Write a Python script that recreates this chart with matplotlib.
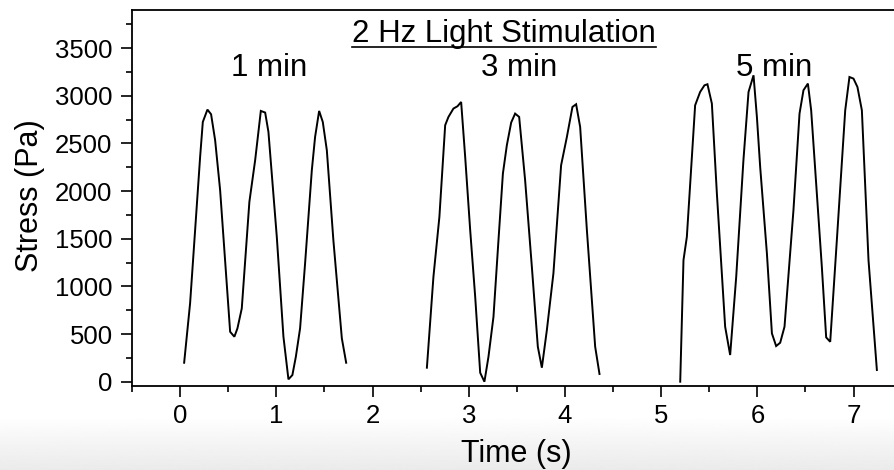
import numpy as np
import matplotlib
matplotlib.use("Agg")
import matplotlib.pyplot as plt
from matplotlib.lines import Line2D
from matplotlib.ticker import MultipleLocator

plt.rcParams['font.family'] = ['Liberation Sans', 'DejaVu Sans']

# ---- data ----
t_1min = [0.042, 0.104, 0.156, 0.208, 0.236, 0.284, 0.322, 0.364, 0.416, 0.520, 0.564,
          0.596, 0.641, 0.720, 0.780, 0.839, 0.884, 0.918, 1.005, 1.074, 1.126, 1.167,
          1.203, 1.247, 1.299, 1.369, 1.403, 1.445, 1.483, 1.525, 1.593, 1.681, 1.726]
s_1min = [199, 825, 1590, 2358, 2725, 2855, 2806, 2534, 2009, 524, 472,
          560, 769, 1887, 2324, 2841, 2824, 2621, 1520, 472, 25, 70,
          262, 560, 1241, 2219, 2568, 2841, 2725, 2429, 1485, 455, 199]

t_3min = [2.565, 2.633, 2.695, 2.755, 2.789, 2.841, 2.883, 2.921, 2.963, 3.015, 3.067,
          3.119, 3.163, 3.205, 3.257, 3.309, 3.355, 3.396, 3.441, 3.482, 3.524, 3.586,
          3.656, 3.718, 3.760, 3.812, 3.880, 3.960, 4.020, 4.078, 4.116, 4.158, 4.228,
          4.314, 4.359]
s_3min = [147, 1101, 1730, 2691, 2778, 2866, 2890, 2935, 2358, 1590, 891,
          94, 0, 262, 681, 1485, 2184, 2481, 2719, 2813, 2778, 2114,
          1205, 367, 147, 542, 1136, 2271, 2568, 2883, 2911, 2673, 1590,
          367, 81]

t_5min = [5.198, 5.232, 5.267, 5.353, 5.405, 5.450, 5.481, 5.527, 5.579, 5.665, 5.717,
          5.780, 5.855, 5.908, 5.960, 5.995, 6.029, 6.099, 6.151, 6.195, 6.237, 6.282,
          6.375, 6.438, 6.479, 6.525, 6.559, 6.618, 6.670, 6.715, 6.757, 6.826, 6.913,
          6.957, 6.999, 7.040, 7.086, 7.155, 7.242]
s_5min = [0, 1276, 1520, 2900, 3040, 3110, 3121, 2918, 1975, 577, 280,
          1101, 2324, 3040, 3215, 2778, 2254, 1346, 507, 374, 409, 577,
          1800, 2813, 3058, 3128, 2848, 1975, 1205, 465, 419, 1485, 2848,
          3197, 3180, 3092, 2848, 1276, 123]

segment_labels = ["1 min", "3 min", "5 min"]
segment_label_x = [0.93, 3.52, 6.17]
title_text = "2 Hz Light Stimulation"

W, H = 894, 470
fig = plt.figure(figsize=(W / 100, H / 100), dpi=100)

# subtle grey gradient at the bottom of the image
gax = fig.add_axes([0, 0, 1, 55 / H], zorder=-10)
grad = np.linspace(0.92, 1.0, 64).reshape(-1, 1)
gax.imshow(grad, cmap='gray', vmin=0, vmax=1, aspect='auto', origin='lower',
           extent=[0, 1, 0, 1])
gax.axis('off')

left = 132 / W
bottom = (H - 386) / H
top = (H - 10) / H
ax = fig.add_axes([left, bottom, 1.0 - left, top - bottom])
ax.set_facecolor('none')

for t, s in [(t_1min, s_1min), (t_3min, s_3min), (t_5min, s_5min)]:
    ax.plot(t, s, color='black', lw=1.4, solid_joinstyle='miter')

ax.set_xlim(-0.5, 7.42)
ax.set_ylim(-45, 3900)
ax.xaxis.set_major_locator(MultipleLocator(1))
ax.xaxis.set_minor_locator(MultipleLocator(0.5))
ax.yaxis.set_major_locator(MultipleLocator(500))
ax.yaxis.set_minor_locator(MultipleLocator(250))
ax.tick_params(which='both', direction='out', width=1.2, colors='black')
ax.tick_params(which='major', length=8, labelsize=18.5)
ax.tick_params(axis='x', which='major', pad=5)
ax.tick_params(axis='y', which='major', pad=6)
ax.tick_params(which='minor', length=4)
ax.spines['right'].set_visible(False)
for sp in ['left', 'top', 'bottom']:
    ax.spines[sp].set_linewidth(1.3)

fig.text(30 / W, 1 - 196 / H, "Stress (Pa)", rotation=90, ha='center', va='center',
         fontsize=22)
fig.text(516 / W, 1 - 462 / H, "Time (s)", ha='center', va='baseline', fontsize=22)

for lab, xl in zip(segment_labels, segment_label_x):
    ax.text(xl, 3204, lab, ha='center', va='baseline', fontsize=22.5)

ttl = ax.text(3.37, 3561, title_text, ha='center', va='baseline', fontsize=22.5)

fig.canvas.draw()
bb = ttl.get_window_extent(renderer=fig.canvas.get_renderer())
bbf = bb.transformed(fig.transFigure.inverted())
yline = 1 - 46.5 / H
fig.add_artist(Line2D([bbf.x0, bbf.x1], [yline, yline], transform=fig.transFigure,
                      color='black', lw=1.2))

fig.savefig("out.png", dpi=100)
